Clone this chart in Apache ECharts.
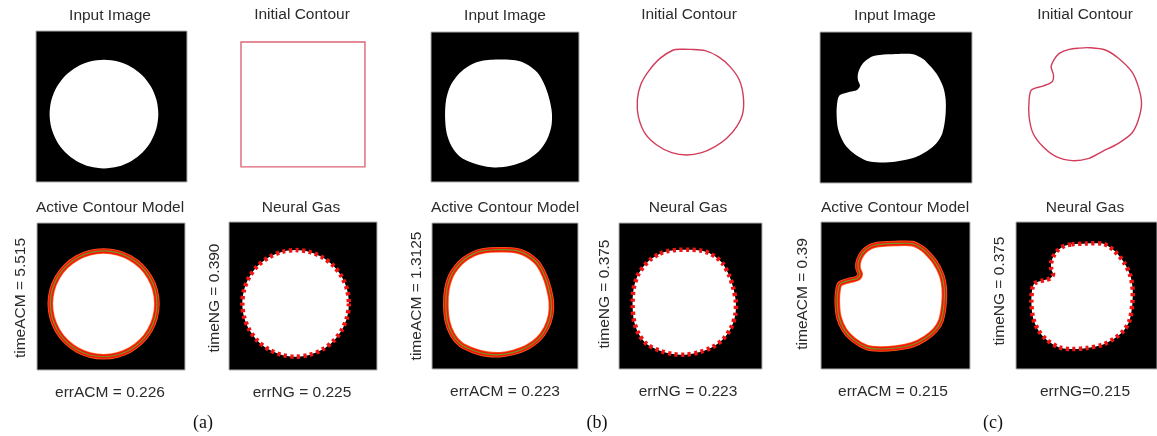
<!DOCTYPE html>
<html>
<head>
<meta charset="utf-8">
<script src="https://cdn.jsdelivr.net/npm/echarts@6/dist/echarts.min.js"></script>
<style>html,body{margin:0;padding:0;background:#fff}#c{width:1157px;height:436px}</style>
</head>
<body>
<div id="c"></div>
<script>
// ---- data (image coordinates in % of each panel, y downward) ----
const shapeA = [[81.0,55.0],[79.8,64.3],[76.2,73.0],[70.5,80.5],[63.0,86.2],[54.3,89.8],[45.0,91.0],[35.7,89.8],[27.0,86.2],[19.5,80.5],[13.8,73.0],[10.2,64.3],[9.0,55.0],[10.2,45.7],[13.8,37.0],[19.5,29.5],[27.0,23.8],[35.7,20.2],[45.0,19.0],[54.3,20.2],[63.0,23.8],[70.5,29.5],[76.2,37.0],[79.8,45.7]];
const shapeB = [[28.7,21.0],[34.0,19.3],[40.0,18.5],[49.0,18.3],[57.0,18.8],[63.0,20.6],[68.0,23.6],[72.7,28.0],[77.2,36.3],[80.1,45.2],[81.7,54.1],[81.3,63.0],[78.3,71.9],[72.7,79.7],[64.8,85.3],[55.8,88.6],[46.7,90.2],[37.7,89.8],[28.7,87.5],[19.6,83.1],[14.0,76.4],[10.6,67.5],[9.5,56.3],[10.2,45.2],[12.9,36.3],[17.0,30.0],[22.0,25.0]];
const shapeC = [[39.4,15.2],[50.0,14.6],[61.3,14.7],[66.0,16.8],[70.0,19.8],[76.6,27.5],[81.0,36.3],[82.7,45.1],[82.5,56.0],[80.5,67.0],[76.6,73.6],[70.0,79.1],[61.3,83.5],[50.3,85.7],[39.4,86.4],[30.6,85.3],[21.9,80.2],[15.8,73.6],[12.0,64.8],[10.9,53.8],[11.6,45.1],[13.1,41.8],[19.7,39.6],[24.3,38.4],[26.3,35.6],[25.0,32.0],[24.9,28.0],[26.4,23.6],[29.0,19.9],[32.8,17.0],[36.0,15.8]];
const initA = [[8.6,7.3],[90.7,7.3],[90.7,90.0],[8.6,90.0]];
const initB = [[39.4,12.0],[45.0,11.5],[50.7,11.6],[60.8,12.4],[69.8,16.4],[77.7,23.1],[84.0,32.0],[86.7,43.1],[86.3,54.2],[82.2,63.1],[75.5,70.9],[67.6,76.4],[58.6,80.4],[48.4,82.0],[38.3,80.4],[28.2,75.3],[20.3,67.6],[15.8,56.4],[15.1,45.3],[17.3,35.3],[22.5,26.4],[30.4,17.6]];
const initC = [[27.5,23.0],[29.8,17.8],[33.1,14.1],[39.9,11.5],[46.5,10.7],[53.4,10.4],[64.6,11.9],[73.6,17.4],[82.7,26.3],[87.2,36.2],[89.4,47.2],[87.2,58.3],[82.7,67.1],[73.6,73.7],[62.4,79.2],[53.4,83.7],[42.1,85.2],[30.9,82.6],[21.8,75.9],[15.1,67.1],[12.4,56.1],[12.4,45.0],[14.0,38.4],[21.8,35.8],[28.2,32.9],[29.1,28.5]];

const topTitles = ['Input Image', 'Initial Contour'];
const bottomTitles = ['Active Contour Model', 'Neural Gas'];
const timeLabels = ['timeACM = 5.515', 'timeNG = 0.390', 'timeACM = 1.3125', 'timeNG = 0.375', 'timeACM = 0.39', 'timeNG = 0.375'];
const errLabels = ['errACM = 0.226', 'errNG = 0.225', 'errACM = 0.223', 'errNG = 0.223', 'errACM = 0.215', 'errNG=0.215'];
const captions = ['(a)', '(b)', '(c)'];

// ---- layout ----
const topBoxes = [[36,31,151,151],[228,31,151,151],[431,32,148,150],[615,32,148,150],[820,32,152,151],[1011,32,148,151]];
const bottomBoxes = [[37,223,148,147],[229,222,148,148],[432,223,146,146],[619,223,143,146],[821,222,149,147],[1016,222,147,147]];
const topTitlePos = [[110,16],[302,15],[505,16],[689,15],[895,16],[1085,15]];
const bottomTitlePos = [[110,208],[301,208],[505,208],[688,208],[895,208],[1085,208]];
const timePos = [[21,298],[215,298],[417,296],[605,294],[803,294],[1000,291]];
const errPos = [[110,393],[302,393],[505,392],[688,392],[893,392],[1085,392]];
const capPos = [[203,423],[597,423],[993,423]];

const shapes = [shapeA, shapeB, shapeC];
const inits = [initA, initB, initC];

const grids = [], xAxes = [], yAxes = [], series = [], graphics = [];
function addGrid(box, dark) {
  const i = grids.length;
  grids.push({left: box[0], top: box[1], width: box[2], height: box[3], show: dark,
    backgroundColor: '#000', borderColor: '#b0b0b0', borderWidth: dark ? 1 : 0});
  xAxes.push({type: 'value', gridIndex: i, min: 0, max: 100, show: false});
  yAxes.push({type: 'value', gridIndex: i, min: 0, max: 100, inverse: true, show: false});
  return i;
}
// closed outline / region drawn through the grid's own axes (api.coord)
function poly(gi, shape, style, smooth, z) {
  series.push({type: 'custom', xAxisIndex: gi, yAxisIndex: gi, z: z, silent: true, clip: true,
    data: shape,
    renderItem: function (params, api) {
      if (params.dataIndex !== 0) return null;
      const pts = shape.map(p => api.coord(p));
      return {type: 'polygon', shape: {points: pts, smooth: smooth}, style: style};
    }});
}

for (let k = 0; k < 3; k++) {
  const shape = shapes[k];
  const sm = 0.3;
  // input image
  const g0 = addGrid(topBoxes[2*k], true);
  poly(g0, shape, {fill: '#ffffff'}, sm, 2);
  // initial contour
  const g1 = addGrid(topBoxes[2*k+1], false);
  poly(g1, inits[k], {fill: 'none', stroke: k === 0 ? '#dd6677' : '#d23c5a', lineWidth: 1.4}, k === 0 ? 0 : sm, 3);
  // ACM
  const g2 = addGrid(bottomBoxes[2*k], true);
  poly(g2, shape, {fill: '#ffffff'}, sm, 2);
  poly(g2, shape, {fill: 'none', stroke: '#ff5a1e', lineWidth: 5.6}, sm, 3);
  poly(g2, shape, {fill: 'none', stroke: '#f51408', lineWidth: 4}, sm, 4);
  poly(g2, shape, {fill: 'none', stroke: '#6f9a1e', lineWidth: 1.2}, sm, 5);
  // NG
  const g3 = addGrid(bottomBoxes[2*k+1], true);
  poly(g3, shape, {fill: '#ffffff'}, sm, 2);
  poly(g3, shape, {fill: 'none', stroke: '#f01414', lineWidth: 4.5, lineDash: [3.2, 3.4], lineCap: 'butt'}, sm, 4);
}

const sans = 'Liberation Sans, Arial, Helvetica, sans-serif';
function txt(x, y, text, size, rot, family, color) {
  graphics.push({type: 'text', x: x, y: y, rotation: rot || 0, silent: true,
    style: {text: text, fontSize: size, fontFamily: family || sans, fill: color || '#2b2b2b', align: 'center', verticalAlign: 'middle'}});
}
for (let i = 0; i < 6; i++) {
  txt(topTitlePos[i][0], topTitlePos[i][1], topTitles[i % 2], 15.5);
  txt(bottomTitlePos[i][0], bottomTitlePos[i][1], bottomTitles[i % 2], 15.5);
  txt(timePos[i][0], timePos[i][1], timeLabels[i], 15.5, Math.PI / 2);
  txt(errPos[i][0], errPos[i][1], errLabels[i], 15.5);
}
for (let k = 0; k < 3; k++) txt(capPos[k][0], capPos[k][1], captions[k], 18, 0, 'Liberation Serif, Times New Roman, serif', '#111');

const chart = echarts.init(document.getElementById('c'), null, {renderer: 'canvas'});
chart.setOption({animation: false, backgroundColor: '#fff', grid: grids, xAxis: xAxes, yAxis: yAxes, series: series, graphic: graphics});
</script>
</body>
</html>
